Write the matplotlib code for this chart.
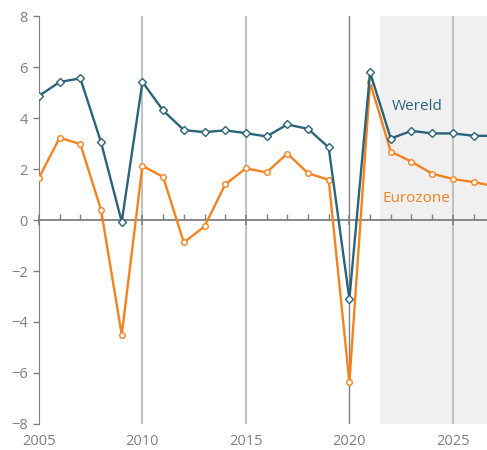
import matplotlib.pyplot as plt
import numpy as np

plt.rcParams['font.family'] = ['Open Sans', 'DejaVu Sans']

years = list(range(2005, 2028))
wereld = [4.87, 5.42, 5.56, 3.05, -0.07, 5.42, 4.30, 3.53, 3.45, 3.52, 3.41,
          3.28, 3.75, 3.58, 2.85, -3.10, 5.80, 3.20, 3.50, 3.40, 3.40, 3.31, 3.30]
eurozone = [1.66, 3.23, 2.98, 0.40, -4.50, 2.13, 1.69, -0.88, -0.25, 1.40, 2.03,
            1.87, 2.61, 1.84, 1.58, -6.37, 5.40, 2.69, 2.29, 1.82, 1.61, 1.49, 1.33]
x_ticks = [2005, 2010, 2015, 2020, 2025]
y_ticks = [-8, -6, -4, -2, 0, 2, 4, 6, 8]
forecast_start = 2021.5
x_max = 2026.65

teal = '#2b6479'
orange = '#f5821f'
grey = '#7f7f7f'

fig = plt.figure(figsize=(4.87, 4.5), dpi=100)
ax = fig.add_axes([0.080, 0.058, 0.920, 0.906])

ax.axvspan(forecast_start, x_max, color='#f0f0f0', lw=0, zorder=0)
for xv in x_ticks[1:]:
    c = '#808080' if xv == 2020 else '#bfbfbf'
    lw = 1.0 if xv == 2020 else 1.4
    ax.axvline(xv, color=c, lw=lw, zorder=1)

ax.plot(years, eurozone, color=orange, lw=1.7, marker='o', ms=4,
        mfc='white', mec=orange, mew=1.0, zorder=3)
ax.plot(years, wereld, color=teal, lw=1.7, marker='D', ms=3.6,
        mfc='white', mec=teal, mew=1.0, zorder=4)

ax.text(2022.05, 4.45, 'Wereld', color=teal, fontsize=11, va='center', ha='left')
ax.text(2021.6, 0.85, 'Eurozone', color=orange, fontsize=11, va='center', ha='left')

for s in ['top', 'right']:
    ax.spines[s].set_visible(False)
ax.spines['left'].set_color(grey)
ax.spines['bottom'].set_position(('data', 0))
ax.spines['bottom'].set_color(grey)
ax.spines['bottom'].set_linewidth(1.3)

ax.set_yticks(y_ticks)
ax.tick_params(axis='y', colors=grey, labelsize=10.5, length=4, width=1, pad=4)
ax.set_xticks(x_ticks)
ax.set_xticks(years[:-1], minor=True)
ax.tick_params(axis='x', which='major', direction='inout', length=7, width=1.2,
               color=grey, labelbottom=False)
ax.tick_params(axis='x', which='minor', direction='in', length=4, width=1, color=grey)

ax.set_xlim(2005, x_max)
ax.set_ylim(-8, 8)

sec = ax.secondary_xaxis('bottom')
sec.set_xticks(x_ticks)
sec.spines['bottom'].set_visible(False)
sec.tick_params(axis='x', length=0, colors=grey, labelsize=10.5, pad=7)

fig.savefig('out.png', dpi=100)
